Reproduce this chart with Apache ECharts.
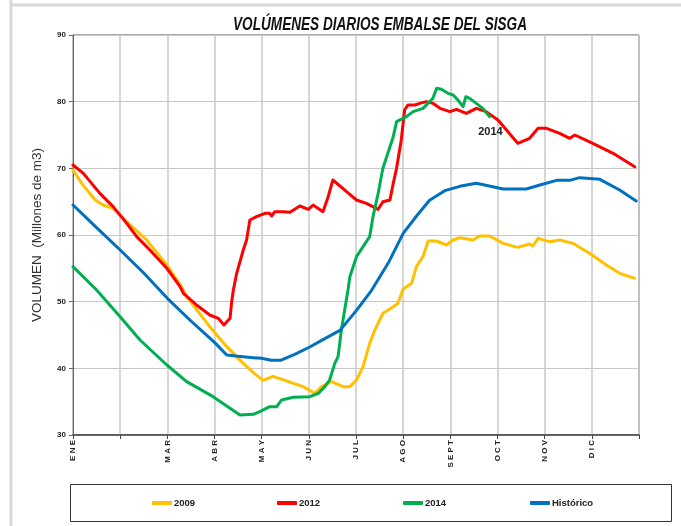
<!DOCTYPE html>
<html>
<head>
<meta charset="utf-8">
<script src="https://cdn.jsdelivr.net/npm/echarts@6/dist/echarts.min.js"></script>
<style>
html,body{margin:0;padding:0;background:#fff;}
#c{width:681px;height:526px;}
</style>
</head>
<body>
<div id="c"></div>
<script>
// Month tick labels (x axis in months from 1 January)
const monthLabels = ['ENE','','MAR','ABR','MAY','JUN','JUL','AGO','SEPT','OCT','NOV','DIC',''];
const seriesNames = ['2009','2012','2014','Histórico'];

// 2009
const x2009 = [0,0.2,0.47,0.64,0.85,1.14,1.56,1.99,2.30,2.41,2.9,3.26,3.61,3.85,4.03,4.24,4.45,4.67,4.88,5.13,5.27,5.48,5.73,5.87,6.01,6.15,6.29,6.40,6.57,6.79,6.89,7.0,7.18,7.28,7.42,7.53,7.7,7.92,8.06,8.2,8.48,8.62,8.83,9.12,9.43,9.68,9.75,9.86,10.1,10.32,10.6,10.95,11.31,11.59,11.91];
const y2009 = [69.75,67.6,65.25,64.5,64,62,59.25,55.5,52.25,50.75,46.25,43.25,40.75,39.2,38.2,38.8,38.3,37.75,37.25,36.25,37.25,38,37.25,37.25,38.25,40.25,43.75,45.75,48.25,49.25,49.75,51.9,52.75,55.25,56.75,59.1,59.1,58.5,59.25,59.6,59.25,59.85,59.85,58.75,58.15,58.65,58.35,59.5,59,59.25,58.75,57.25,55.5,54.25,53.5];

// 2012
const x2012 = [0,0.22,0.57,0.85,1.14,1.35,1.63,1.99,2.27,2.34,2.62,2.9,3.08,3.2,3.33,3.36,3.40,3.47,3.61,3.68,3.75,3.89,4.07,4.17,4.21,4.28,4.46,4.6,4.81,4.99,5.09,5.3,5.41,5.51,5.55,5.8,6.01,6.22,6.47,6.57,6.72,6.79,6.86,6.96,7.03,7.1,7.25,7.35,7.49,7.63,7.78,7.99,8.13,8.34,8.55,8.76,9.01,9.43,9.68,9.86,10.04,10.32,10.53,10.64,11.02,11.45,11.91];
const y2012 = [70.5,69.25,66.25,64.25,61.75,59.75,57.75,55,52.25,51.25,49.5,48,47.5,46.5,47.5,49.75,51.75,54.25,57.75,59.25,62.25,62.75,63.25,63.25,62.85,63.5,63.5,63.4,64.35,63.85,64.5,63.5,65.75,68.25,68.5,66.5,65.25,64.75,63.85,65,65.25,67.75,70,74.25,78.75,79.5,79.5,79.75,80,79.75,79,78.5,78.85,78.25,79,78.5,77.25,73.75,74.5,76,76,75.25,74.5,75,73.75,72.25,70.25];

// 2014
const x2014 = [0,0.5,1.0,1.42,1.99,2.41,2.97,3.54,3.82,3.96,4.17,4.32,4.42,4.67,5.02,5.2,5.34,5.44,5.55,5.62,5.69,5.76,5.83,5.87,6.01,6.15,6.29,6.36,6.47,6.57,6.72,6.79,6.86,7.07,7.21,7.42,7.56,7.63,7.71,7.81,7.95,8.06,8.16,8.27,8.33,8.41,8.55,8.69,8.83];
const y2014 = [55.25,51.75,47.75,44.25,40.5,38,35.75,33,33.1,33.5,34.25,34.25,35.25,35.65,35.75,36.25,37.25,38.25,40.75,41.75,45.75,48.75,51.75,53.75,56.75,58.25,59.75,62.75,66.25,70,73.25,74.75,77,77.75,78.5,79,80,80.5,82,81.85,81.25,81,80.25,79.25,80.75,80.5,79.75,79,77.75];

// Histórico
const xHist = [0,0.5,1.0,1.5,2.0,2.5,3.0,3.26,3.5,3.82,4.0,4.2,4.4,4.7,5.02,5.3,5.66,6.01,6.33,6.7,7.0,7.3,7.56,7.9,8.2,8.55,8.8,9.12,9.61,9.9,10.25,10.53,10.74,11.17,11.59,11.94];
const yHist = [64.5,61.1,57.75,54.3,50.5,47.1,43.9,42.0,41.8,41.6,41.5,41.2,41.2,42.1,43.2,44.3,45.7,48.7,51.7,56,60.25,63,65.2,66.7,67.3,67.75,67.4,66.9,66.9,67.5,68.2,68.2,68.6,68.35,66.75,65.1];

const label2014 = {text:'2014', x:8.85, y:75.5};

const colors = ['#FFC000','#FF0000','#00B050','#0070C0'];
const xs = [x2009,x2012,x2014,xHist];
const ys = [y2009,y2012,y2014,yHist];

const chart = echarts.init(document.getElementById('c'), null, {renderer:'canvas'});

const series = seriesNames.map((n,i)=>({
  name:n, type:'line', showSymbol:false, symbol:'none', smooth:false,
  data: xs[i].map((x,j)=>[x, ys[i][j]]),
  lineStyle:{color:colors[i], width:3, cap:'round', join:'round'},
  itemStyle:{color:colors[i]},
  z: 3+i,
  animation:false
}));
series[2].markPoint = {
  symbol:'circle', symbolSize:0,
  data:[{coord:[label2014.x,label2014.y], value:label2014.text}],
  label:{show:true, formatter:label2014.text, color:'#222', fontSize:11, fontWeight:'bold', fontFamily:'Liberation Sans, Arial, sans-serif', position:'inside'}
};

const legendLefts = [147,272,398,525];
const legends = seriesNames.map((n,i)=>({
  data:[n], left:legendLefts[i], top:493, itemWidth:20, itemHeight:4, icon:'roundRect',
  textStyle:{fontSize:9.5, fontWeight:'bold', color:'#222', fontFamily:'Liberation Sans, Arial, sans-serif', padding:[0,0,0,-3]},
  selectedMode:false
}));

chart.setOption({
  animation:false,
  backgroundColor:'#fff',
  grid:{left:73, right:42, top:35, bottom:91, show:true, borderColor:'#555', borderWidth:1, containLabel:false},
  legend: legends,
  xAxis:{
    type:'value', min:0, max:12, interval:1,
    axisLine:{show:true, lineStyle:{color:'#444', width:1.5}},
    axisTick:{show:true, length:4, lineStyle:{color:'#444'}},
    splitLine:{show:true, lineStyle:{color:'#c8c8c8', width:1.5}},
    axisLabel:{rotate:90, fontSize:8, fontWeight:'bold', color:'#222', margin:5,
      fontFamily:'Liberation Sans, Arial, sans-serif',
      formatter:(v)=>(monthLabels[Math.round(v)] || '').split('').join(' ')}
  },
  yAxis:{
    type:'value', min:30, max:90, interval:10,
    name:'VOLUMEN  (Millones de m3)', nameLocation:'middle', nameGap:29, nameRotate:90,
    nameTextStyle:{fontSize:13.5, color:'#333', fontFamily:'Liberation Sans, Arial, sans-serif'},
    axisLine:{show:true, lineStyle:{color:'#666'}},
    axisTick:{show:true, length:4, lineStyle:{color:'#666'}},
    splitLine:{show:true, lineStyle:{color:'#c8c8c8', width:1}},
    axisLabel:{fontSize:8, fontWeight:'bold', color:'#222', margin:7, fontFamily:'Liberation Sans, Arial, sans-serif'}
  },
  graphic:[
    {type:'line', shape:{x1:11, y1:0, x2:11, y2:526}, style:{stroke:'#d9d9d9', lineWidth:3}},
    {type:'line', shape:{x1:11, y1:5, x2:681, y2:5}, style:{stroke:'#d9d9d9', lineWidth:3}},
    {type:'rect', shape:{x:70.5, y:484.5, width:601, height:37}, style:{fill:'none', stroke:'#333', lineWidth:1}},
    {type:'text', x:380, y:25, scaleX:0.8, scaleY:1.05, originX:0, originY:0,
      style:{text:'VOLÚMENES DIARIOS EMBALSE DEL SISGA', textAlign:'center', textVerticalAlign:'middle',
      font:'italic bold 17px "Liberation Sans", Arial, sans-serif', fill:'#111'}}
  ],
  series: series
});
</script>
</body>
</html>
